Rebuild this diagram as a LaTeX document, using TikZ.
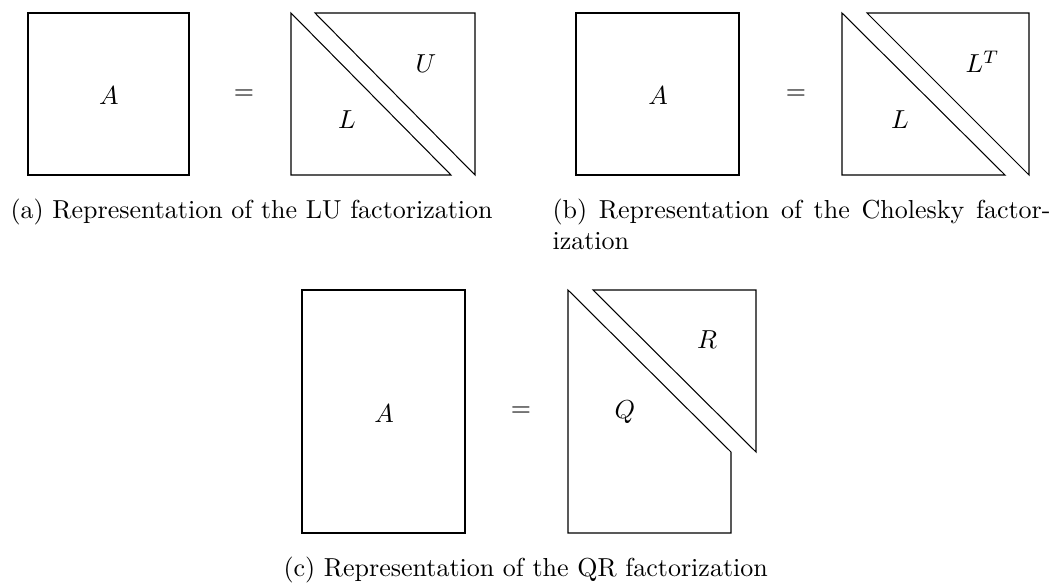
\documentclass[tikz,border=0pt]{standalone}
\begin{document}
\begin{tikzpicture}[x=0.3845pt,y=-0.3845pt, line width=0.4pt,
  lbl/.style={anchor=base, inner sep=0pt},
  capt/.style={anchor=base west, inner sep=0pt}]
\useasboundingbox (0,0) rectangle (1052,583);
% ---------- (a) LU ----------
\draw (28,13) rectangle (189,175);
\node[lbl] (Aa) at (109,104) {$A$};
\node[lbl] (eqa) at (244,99.5) {$=$};
\draw (291,13) -- (291,175) -- (451,175) -- cycle;
\draw (315,13) -- (475,13) -- (475,175) -- cycle;
\node[lbl] (La) at (347,128) {$L$};
\node[lbl] (Ua) at (426,73) {$U$};
\node[capt] (capa) at (10,218) {(a) Representation of the LU factorization};
% ---------- (b) Cholesky ----------
\draw (576,13) rectangle (739,175);
\node[lbl] (Ab) at (658,104) {$A$};
\node[lbl] (eqb) at (796,99.5) {$=$};
\draw (842,13) -- (842,175) -- (1005,175) -- cycle;
\draw (867,13) -- (1029,13) -- (1029,175) -- cycle;
\node[lbl] (Lb) at (900,128) {$L$};
\node[capt] (LTb) at (965,73) {$L^T$};
\node[capt] (capb1) at (552,218) {\hbox to 191.5pt{(b) Representation of the Cholesky factor-}};
\node[capt] (capb2) at (552,249) {ization};
% ---------- (c) QR ----------
\draw (302,290) rectangle (465,533);
\node[lbl] (Ac) at (384,422) {$A$};
\node[lbl] (eqc) at (521,416.5) {$=$};
\draw (568,290) -- (568,533) -- (731,533) -- (731,452) -- cycle;
\draw (593,290) -- (756,290) -- (756,452) -- cycle;
\node[lbl] (Qc) at (625,418) {$Q$};
\node[lbl] (Rc) at (707,348) {$R$};
\node[capt] (capc) at (283,576) {(c) Representation of the QR factorization};
\end{tikzpicture}
\end{document}
